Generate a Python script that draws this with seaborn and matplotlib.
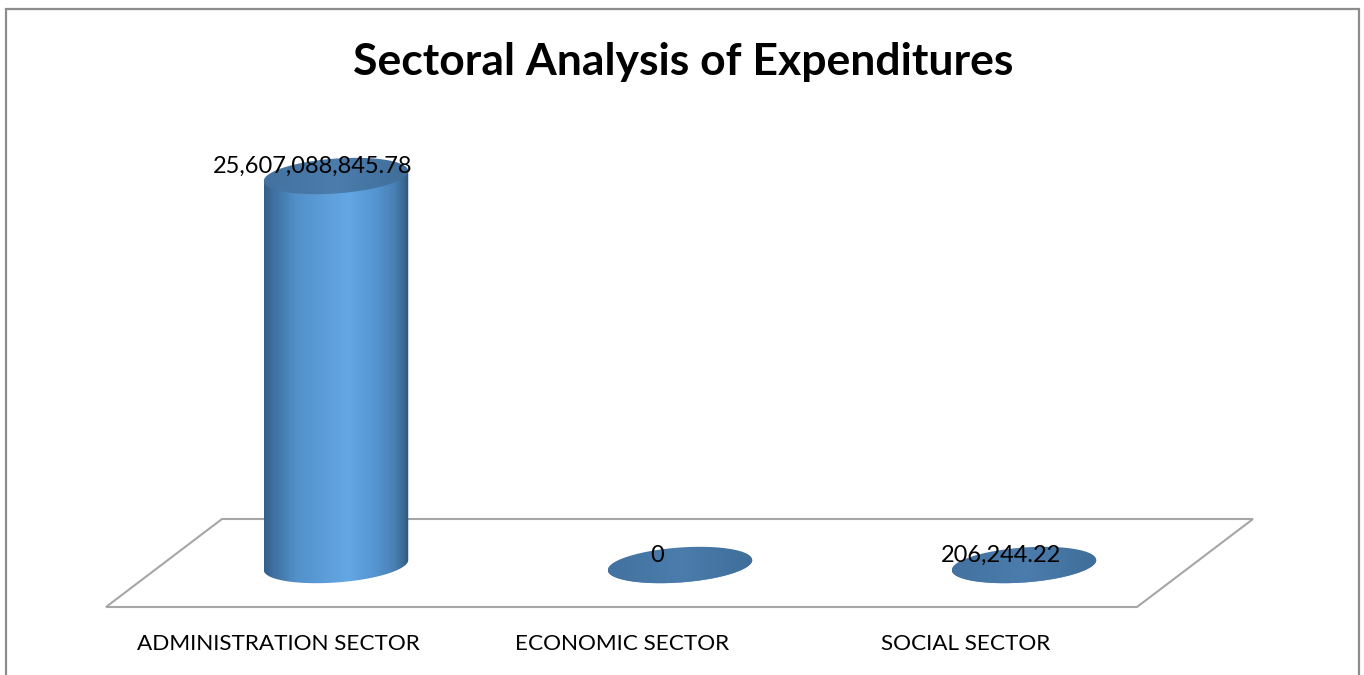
"""Sectoral analysis of expenditures, drawn as 3D-looking cylinders."""

import numpy as np
import seaborn as sns
import matplotlib.pyplot as plt
from matplotlib.colors import LinearSegmentedColormap
from matplotlib.patches import Polygon, Rectangle
from matplotlib.path import Path
from matplotlib.transforms import ScaledTranslation

sectors = ["ADMINISTRATION SECTOR", "ECONOMIC SECTOR", "SOCIAL SECTOR"]
expenditures = [25607088845.78, 0.0, 206244.22]

W, H, DPI = 1364, 675, 100


def main() -> None:
    sns.set_style("white")
    plt.rcParams["font.family"] = ["Lato", "DejaVu Sans"]
    plt.rcParams["text.color"] = "black"
    plt.rcParams["xtick.color"] = "black"

    fig = plt.figure(figsize=(W / DPI, H / DPI), dpi=DPI)
    fig.patch.set_facecolor("white")

    # full-figure layer in pixel units (origin bottom-left) for the 3D look
    deco = fig.add_axes([0, 0, 1, 1], zorder=0)
    deco.set_xlim(0, W)
    deco.set_ylim(0, H)
    deco.axis("off")

    # axes: category 0 centre at x=336 px, value 0 at y=565 px (from top)
    ax = fig.add_axes([164 / W, 110 / H, 1032 / W, 389 / H], zorder=1)
    ax.patch.set_alpha(0)
    sns.barplot(x=sectors, y=expenditures, color="#4f81bd", width=0.42,
                saturation=1, ax=ax)
    ax.set_xlim(-0.5, 2.5)
    ax.set_ylim(0, max(expenditures))

    def top2b(y):
        return H - y

    # chart border
    deco.add_patch(Rectangle((6, top2b(700)), 1353, 691, fill=False,
                             edgecolor="#8c8c8c", lw=1.6, clip_on=False))

    # 3D floor
    deco.add_patch(Polygon([(106, top2b(607)), (1137, top2b(607)),
                            (1253, top2b(519)), (222, top2b(519))],
                           closed=True, fill=False, edgecolor="#a6a6a6",
                           lw=1.5, zorder=1))

    body_cmap = LinearSegmentedColormap.from_list("body", [
        (0.0, "#33608b"), (0.06, "#3e6f9f"), (0.22, "#5290c9"),
        (0.45, "#5e9fdb"), (0.58, "#64a7e5"), (0.76, "#5596d2"),
        (0.9, "#4a81b6"), (0.97, "#39678f"), (1.0, "#2d5476")])
    cap_cmap = LinearSegmentedColormap.from_list("cap", [
        (0.0, "#4372a0"), (0.5, "#4b7cab"), (1.0, "#3f6e9a")])
    grad = np.linspace(0, 1, 256).reshape(1, -1)

    b = 17.5   # half height of the ellipses
    s = 5.0    # shear: right end higher than left end
    t = np.linspace(0, 2 * np.pi, 200)
    lower = np.linspace(np.pi, 2 * np.pi, 100)

    # data -> pixel, taken from the seaborn bars
    to_pix = ax.transData + deco.transData.inverted()
    for p in ax.patches[:len(sectors)]:
        p.set_alpha(0)
        (x0, ybot), (x1, ytop) = to_pix.transform(
            [(p.get_x(), 0), (p.get_x() + p.get_width(), p.get_height())])
        cx, a = (x0 + x1) / 2, (x1 - x0) / 2

        body = [(x1, ytop + s), (x0, ytop - s)]
        body += [(cx + a * np.cos(u), ybot + b * np.sin(u) + s * np.cos(u))
                 for u in lower]
        body_path = Path(np.array(body + [body[0]]))
        im = deco.imshow(grad, cmap=body_cmap, aspect="auto",
                         extent=(x0, x1, ybot - b - 8, ytop + b + 8),
                         interpolation="bilinear", zorder=2)
        im.set_clip_path(body_path, deco.transData)

        cap = np.column_stack([cx + a * np.cos(t),
                               ytop + b * np.sin(t) + s * np.cos(t)])
        cap_im = deco.imshow(grad, cmap=cap_cmap, aspect="auto",
                             extent=(x0, x1, ytop - b - 8, ytop + b + 8),
                             interpolation="bilinear", zorder=3)
        cap_im.set_clip_path(Path(cap), deco.transData)

    deco.set_xlim(0, W)
    deco.set_ylim(0, H)

    # value labels
    for i, v in enumerate(expenditures):
        label = f"{v:,.2f}" if v else "0"
        off = ScaledTranslation(-0.23, 0.10, fig.dpi_scale_trans)
        ax.text(i, v, label, transform=ax.transData + off, ha="center",
                va="center", fontsize=17, color="black", zorder=5,
                clip_on=False)

    # category labels, shifted left by the 3D perspective
    ax.tick_params(axis="x", length=0, pad=50, labelsize=16.2,
                   labelcolor="black")
    for lab in ax.get_xticklabels():
        lab.set_transform(lab.get_transform()
                          + ScaledTranslation(-0.58, 0, fig.dpi_scale_trans))
    ax.set_yticks([])
    sns.despine(ax=ax, left=True, bottom=True)

    fig.text(683 / W, 1 - 62 / H, "Sectoral Analysis of Expenditures",
             ha="center", va="center", fontsize=32, fontweight="bold",
             color="black")

    fig.savefig("out.png", dpi=DPI, facecolor="white")
    plt.close(fig)


if __name__ == "__main__":
    main()
